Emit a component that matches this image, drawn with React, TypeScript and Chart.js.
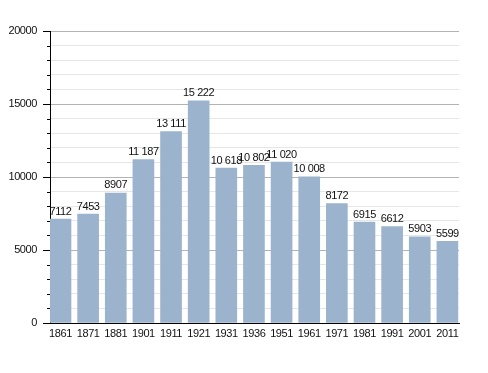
import React, { useEffect, useRef } from "react";
import { Chart, registerables } from "chart.js";

Chart.register(...registerables);

const years = ["1861", "1871", "1881", "1901", "1911", "1921", "1931", "1936", "1951", "1961", "1971", "1981", "1991", "2001", "2011"];
const population = [7112, 7453, 8907, 11187, 13111, 15222, 10618, 10802, 11020, 10008, 8172, 6915, 6612, 5903, 5599];
const yMin = 0;
const yMax = 20000;
const yStep = 1000;
const yLabelStep = 5000;

const FONT = "'Liberation Sans', Arial, sans-serif";
const LETTER_SPACING = "-0.4px";

function formatValue(v: number): string {
  const s = String(v);
  if (s.length > 4) return s.slice(0, s.length - 3) + " " + s.slice(s.length - 3);
  return s;
}

const spacingPlugin = {
  id: "letterSpacing",
  beforeDraw(chart: any) {
    (chart.ctx as any).letterSpacing = LETTER_SPACING;
  },
};

const valueLabelPlugin = {
  id: "valueLabels",
  afterDatasetsDraw(chart: any) {
    const ctx = chart.ctx;
    const meta = chart.getDatasetMeta(0);
    ctx.save();
    (ctx as any).letterSpacing = LETTER_SPACING;
    ctx.font = `11px ${FONT}`;
    ctx.fillStyle = "#111";
    ctx.textAlign = "center";
    ctx.textBaseline = "bottom";
    meta.data.forEach((bar: any, i: number) => {
      ctx.fillText(formatValue(population[i]), bar.x, bar.y - 2);
    });
    ctx.restore();
  },
};

const yTickPlugin = {
  id: "yTicks",
  afterDraw(chart: any) {
    const ctx = chart.ctx;
    const y = chart.scales.y;
    const left = chart.chartArea.left;
    ctx.save();
    ctx.strokeStyle = "#000";
    ctx.lineWidth = 1;
    y.ticks.forEach((t: any) => {
      const py = Math.round(y.getPixelForValue(t.value)) + 0.5;
      const len = t.value % yLabelStep === 0 ? 7 : 3;
      ctx.beginPath();
      ctx.moveTo(left - len, py);
      ctx.lineTo(left, py);
      ctx.stroke();
    });
    ctx.restore();
  },
};

export default function App() {
  const ref = useRef<HTMLCanvasElement>(null);
  useEffect(() => {
    if (!ref.current) return;
    const chart = new Chart(ref.current, {
      type: "bar",
      data: {
        datasets: [
          {
            data: population.map((v, i) => ({ x: i, y: v })),
            backgroundColor: "#9cb3cd",
            borderWidth: 0,
            barThickness: 21,
          },
        ],
      },
      options: {
        responsive: false,
        animation: false,
        layout: { padding: { left: 0, top: 31, right: 29, bottom: 0 } },
        plugins: { legend: { display: false }, tooltip: { enabled: false } },
        scales: {
          x: {
            type: "linear",
            min: -0.38,
            max: 14.42,
            offset: false,
            grid: { display: false, drawTicks: false },
            border: { display: true, color: "#000", width: 1 },
            ticks: {
              stepSize: 1,
              includeBounds: false,
              autoSkip: false,
              maxRotation: 0,
              padding: 4,
              color: "#111",
              font: { family: FONT, size: 11 },
              callback: (v: any) => (Number.isInteger(v) && years[v] ? years[v] : ""),
            },
            afterFit: (s: any) => {
              s.height = 50;
            },
          },
          y: {
            min: yMin,
            max: yMax,
            grid: {
              drawTicks: false,
              color: (c: any) => (c.tick && c.tick.value % yLabelStep === 0 ? "#b3b3b3" : "#e6e6e6"),
            },
            border: { display: true, color: "#000", width: 1 },
            ticks: {
              stepSize: yStep,
              autoSkip: false,
              padding: 13,
              color: "#111",
              font: { family: FONT, size: 11 },
              callback: (v: any) => (v % yLabelStep === 0 ? String(v) : ""),
            },
            afterFit: (s: any) => {
              s.width = 50;
            },
          },
        },
      },
      plugins: [spacingPlugin, valueLabelPlugin, yTickPlugin],
    } as any);
    return () => chart.destroy();
  }, []);
  return (
    <canvas
      ref={ref}
      width={488}
      height={373}
      style={{ position: "fixed", left: 0, top: 0, width: 488, height: 373, display: "block" }}
    />
  );
}
